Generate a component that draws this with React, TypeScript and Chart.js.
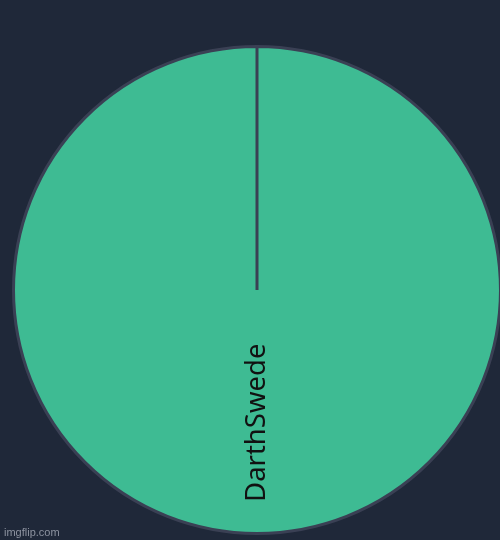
import React, { useEffect, useRef } from 'react';
import { Chart, registerables, Plugin } from 'chart.js';

Chart.register(...registerables);

const categories = ['DarthSwede'];
const values = [1];
const sliceColors = ['#3ebb93'];

// draws each slice's name along its middle angle, like the original
const sliceLabels: Plugin<'pie'> = {
    id: 'sliceLabels',
    afterDatasetsDraw(chart) {
        const ctx = chart.ctx;
        const meta = chart.getDatasetMeta(0);
        meta.data.forEach((arc: any, i: number) => {
            const { x, y, startAngle, endAngle, outerRadius } = arc.getProps(
                ['x', 'y', 'startAngle', 'endAngle', 'outerRadius'], true
            );
            const mid = (startAngle + endAngle) / 2;
            const r = outerRadius * 0.545;
            ctx.save();
            ctx.translate(x + Math.cos(mid) * r, y + Math.sin(mid) * r);
            ctx.rotate(mid - Math.PI);
            ctx.font = '27.5px "Noto Sans", sans-serif';
            ctx.fillStyle = '#111111';
            ctx.textAlign = 'center';
            ctx.textBaseline = 'middle';
            ctx.fillText(String(chart.data.labels?.[i] ?? ''), 0, 0);
            ctx.restore();
        });
    },
};

const App: React.FC = () => {
    const chartRef = useRef<HTMLCanvasElement | null>(null);
    const chartInstanceRef = useRef<Chart | null>(null);

    useEffect(() => {
        document.body.style.margin = '0';
        if (!chartRef.current) return;
        const ctx = chartRef.current.getContext('2d');
        if (!ctx) return;
        if (chartInstanceRef.current) chartInstanceRef.current.destroy();

        chartInstanceRef.current = new Chart(ctx, {
            type: 'pie',
            data: {
                labels: categories,
                datasets: [{
                    data: values,
                    backgroundColor: sliceColors,
                    borderColor: '#3a4054',
                    borderWidth: 3,
                }],
            },
            options: {
                responsive: false,
                animation: false,
                layout: { padding: { left: 12, top: 45, right: 8, bottom: 5 } },
                plugins: {
                    legend: { display: false },
                    tooltip: { enabled: false },
                },
            },
            plugins: [sliceLabels],
        });

        return () => {
            if (chartInstanceRef.current) {
                chartInstanceRef.current.destroy();
                chartInstanceRef.current = null;
            }
        };
    }, []);

    return (
        <div style={{ position: 'relative', width: 500, height: 540, overflow: 'hidden', background: '#1f2839' }}>
            <canvas ref={chartRef} width={510} height={540} style={{ display: 'block' }}></canvas>
            <div style={{
                position: 'absolute', left: 4, bottom: 2,
                font: '11px "Liberation Sans", sans-serif', color: '#8d93a0',
            }}>
                imgflip.com
            </div>
        </div>
    );
};

export default App;
